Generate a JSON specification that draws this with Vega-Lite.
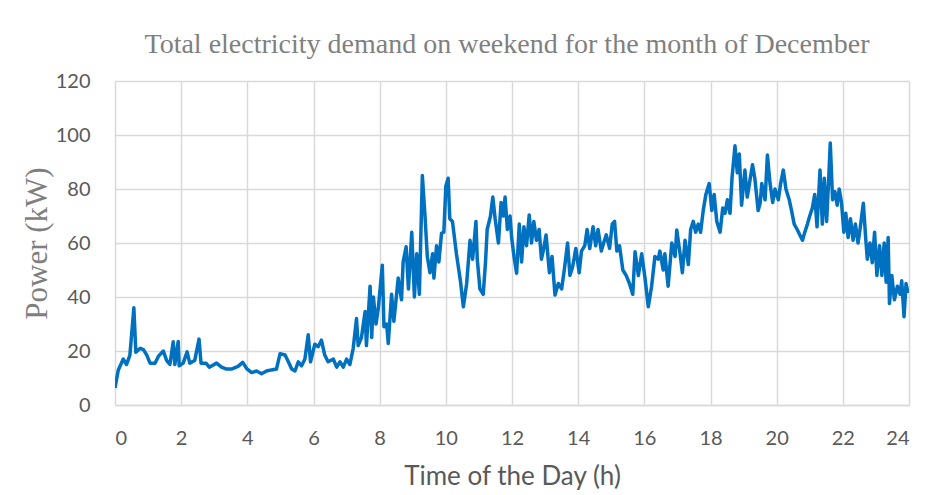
{
  "$schema": "https://vega.github.io/schema/vega-lite/v6.json",
  "autosize": "none",
  "width": 794,
  "height": 324,
  "padding": {"left": 115, "top": 81, "right": 24, "bottom": 90},
  "background": "white",
  "title": {
    "text": "Total electricity demand on weekend for the month of December",
    "font": "Liberation Serif",
    "fontSize": 28,
    "fontWeight": "normal",
    "color": "#7F7F7F",
    "anchor": "middle",
    "offset": 12,
    "dx": -5
  },
  "data": {"values": [
    {"t":0,"p":6.3},{"t":0.1,"p":13},{"t":0.25,"p":17},{"t":0.35,"p":15},{"t":0.45,"p":18.5},{"t":0.57,"p":36},{"t":0.63,"p":19.5},{"t":0.76,"p":21},{"t":0.86,"p":20.5},{"t":0.96,"p":18.5},
    {"t":1.06,"p":15.5},{"t":1.21,"p":15.5},{"t":1.31,"p":18},{"t":1.46,"p":20},{"t":1.56,"p":16.5},{"t":1.66,"p":15},{"t":1.76,"p":23.4},{"t":1.81,"p":15},{"t":1.91,"p":23.5},{"t":1.94,"p":14.5},
    {"t":2.06,"p":15.5},{"t":2.18,"p":19.7},{"t":2.26,"p":15.5},{"t":2.41,"p":16.5},{"t":2.54,"p":24.4},{"t":2.6,"p":15.5},{"t":2.75,"p":15.5},{"t":2.85,"p":14},{"t":3.07,"p":15.5},{"t":3.22,"p":14},
    {"t":3.37,"p":13.3},{"t":3.52,"p":13.3},{"t":3.72,"p":14.3},{"t":3.86,"p":15.8},{"t":3.98,"p":13.5},
    {"t":4.13,"p":12},{"t":4.28,"p":12.6},{"t":4.43,"p":11.6},{"t":4.58,"p":12.6},{"t":4.73,"p":13},{"t":4.88,"p":13.3},{"t":4.99,"p":19},{"t":5.14,"p":18.5},{"t":5.24,"p":16},{"t":5.34,"p":13.3},
    {"t":5.44,"p":12.6},{"t":5.54,"p":16},{"t":5.64,"p":14.5},{"t":5.74,"p":17},{"t":5.84,"p":26},{"t":5.91,"p":16},{"t":6.04,"p":22.5},{"t":6.14,"p":21.6},{"t":6.24,"p":24},{"t":6.34,"p":18.5},
    {"t":6.44,"p":16},{"t":6.6,"p":17},{"t":6.7,"p":14},{"t":6.8,"p":16},{"t":6.9,"p":14},{"t":7.0,"p":17},{"t":7.1,"p":15},{"t":7.2,"p":21},{"t":7.3,"p":32},{"t":7.35,"p":22},
    {"t":7.45,"p":25},{"t":7.56,"p":34.6},{"t":7.6,"p":22},
    {"t":7.71,"p":44},{"t":7.76,"p":25},{"t":7.81,"p":40},{"t":7.89,"p":30},{"t":7.96,"p":36},{"t":8.08,"p":51.8},{"t":8.13,"p":29},{"t":8.21,"p":30},{"t":8.26,"p":22.8},{"t":8.36,"p":41},
    {"t":8.43,"p":31},{"t":8.56,"p":47},{"t":8.66,"p":39},{"t":8.71,"p":53},{"t":8.8,"p":58.6},{"t":8.87,"p":43},{"t":8.97,"p":64},{"t":9.05,"p":40},{"t":9.12,"p":56},{"t":9.2,"p":41},
    {"t":9.29,"p":85},{"t":9.37,"p":70},{"t":9.44,"p":55},{"t":9.52,"p":49},{"t":9.6,"p":56},{"t":9.64,"p":47},{"t":9.72,"p":59},{"t":9.79,"p":53},{"t":9.87,"p":63.6},{"t":9.94,"p":64},
    {"t":10.0,"p":81},{"t":10.07,"p":84},{"t":10.12,"p":69},{"t":10.2,"p":68},{"t":10.32,"p":56},{"t":10.44,"p":46},{"t":10.53,"p":36.4},{"t":10.63,"p":45},{"t":10.73,"p":61},{"t":10.81,"p":54},
    {"t":10.91,"p":68},{"t":10.95,"p":54},{"t":11.03,"p":43},{"t":11.13,"p":41},{"t":11.2,"p":53},{"t":11.25,"p":65},{"t":11.35,"p":70},{"t":11.42,"p":77},{"t":11.49,"p":69},{"t":11.59,"p":60},
    {"t":11.67,"p":75},{"t":11.74,"p":70},{"t":11.79,"p":77},{"t":11.86,"p":65},{"t":11.94,"p":70},
    {"t":11.99,"p":62},{"t":12.06,"p":55},{"t":12.14,"p":48.8},{"t":12.22,"p":67},{"t":12.29,"p":53},{"t":12.36,"p":66},{"t":12.44,"p":59},{"t":12.52,"p":70.4},{"t":12.59,"p":60},{"t":12.66,"p":68},
    {"t":12.74,"p":61},{"t":12.82,"p":65},{"t":12.89,"p":54},{"t":12.96,"p":58},{"t":13.03,"p":63},{"t":13.13,"p":49},{"t":13.21,"p":55},{"t":13.3,"p":40.7},{"t":13.4,"p":45},{"t":13.5,"p":43},
    {"t":13.58,"p":50},{"t":13.68,"p":60},{"t":13.75,"p":48},{"t":13.83,"p":51},{"t":13.93,"p":58},{"t":14.03,"p":49},{"t":14.1,"p":57},{"t":14.2,"p":59},{"t":14.27,"p":65},{"t":14.35,"p":58},
    {"t":14.45,"p":66},{"t":14.53,"p":59},{"t":14.6,"p":65},{"t":14.7,"p":57},{"t":14.77,"p":60},{"t":14.85,"p":63},{"t":14.95,"p":58},{"t":15.03,"p":67},{"t":15.1,"p":68},{"t":15.17,"p":57},
    {"t":15.25,"p":59},{"t":15.35,"p":50},{"t":15.45,"p":48},{"t":15.55,"p":45},
    {"t":15.65,"p":41},{"t":15.72,"p":56.8},{"t":15.82,"p":48},{"t":15.92,"p":56},{"t":16.02,"p":47},{"t":16.12,"p":36.4},{"t":16.22,"p":44},{"t":16.32,"p":55},{"t":16.42,"p":54},{"t":16.47,"p":57},
    {"t":16.57,"p":50},{"t":16.62,"p":56},{"t":16.72,"p":44},{"t":16.83,"p":60},{"t":16.93,"p":55},{"t":16.98,"p":64.8},{"t":17.08,"p":56},{"t":17.15,"p":49},{"t":17.23,"p":61},{"t":17.33,"p":52},
    {"t":17.4,"p":65},{"t":17.48,"p":68},{"t":17.55,"p":64},{"t":17.63,"p":67},{"t":17.7,"p":64},{"t":17.78,"p":72},{"t":17.86,"p":78},{"t":17.96,"p":82},{"t":18.04,"p":72},{"t":18.11,"p":78},
    {"t":18.19,"p":68},{"t":18.29,"p":64},{"t":18.37,"p":73},{"t":18.44,"p":71},{"t":18.51,"p":76},{"t":18.59,"p":71},{"t":18.65,"p":84},{"t":18.74,"p":96},{"t":18.81,"p":86},{"t":18.87,"p":93},
    {"t":18.94,"p":74},{"t":19.04,"p":87},{"t":19.11,"p":77},{"t":19.19,"p":83},{"t":19.27,"p":89},{"t":19.34,"p":84},{"t":19.44,"p":72},
    {"t":19.5,"p":74.7},{"t":19.55,"p":82},{"t":19.65,"p":76},{"t":19.72,"p":92.6},{"t":19.8,"p":82},{"t":19.88,"p":75},{"t":19.95,"p":80},{"t":20.05,"p":76},{"t":20.12,"p":82},{"t":20.2,"p":87},
    {"t":20.28,"p":80},{"t":20.38,"p":76},{"t":20.45,"p":72},{"t":20.53,"p":67},{"t":20.62,"p":65},{"t":20.7,"p":63},{"t":20.78,"p":61},{"t":20.85,"p":64},{"t":20.93,"p":67},{"t":21.0,"p":70},
    {"t":21.08,"p":73},{"t":21.15,"p":78},{"t":21.22,"p":66},{"t":21.31,"p":87},{"t":21.38,"p":67},{"t":21.44,"p":84},{"t":21.51,"p":68},{"t":21.57,"p":83},{"t":21.62,"p":97},{"t":21.69,"p":76},
    {"t":21.76,"p":79},{"t":21.83,"p":74},{"t":21.89,"p":80},{"t":21.96,"p":75},{"t":22.03,"p":64},{"t":22.09,"p":71},{"t":22.16,"p":62},{"t":22.23,"p":69},{"t":22.31,"p":61},{"t":22.38,"p":67},
    {"t":22.46,"p":60},{"t":22.53,"p":66},{"t":22.62,"p":74.7},{"t":22.69,"p":62},{"t":22.74,"p":54},{"t":22.82,"p":60},{"t":22.89,"p":52.7},{"t":22.96,"p":64},{"t":23.03,"p":48},{"t":23.11,"p":59},
    {"t":23.18,"p":48},{"t":23.25,"p":60},{"t":23.31,"p":45.5},{"t":23.37,"p":62},{"t":23.41,"p":37.6},{"t":23.48,"p":48},{"t":23.56,"p":39},{"t":23.65,"p":44},{"t":23.73,"p":41},{"t":23.78,"p":46},
    {"t":23.85,"p":32.7},{"t":23.91,"p":45},{"t":23.96,"p":42},{"t":24.0,"p":43}
  ]},
  "mark": {"type": "line", "color": "#0070C0", "strokeWidth": 3.5, "strokeJoin": "round", "clip": true},
  "encoding": {
    "x": {
      "field": "t", "type": "quantitative",
      "scale": {"domain": [0, 24], "nice": false, "zero": false},
      "axis": {
        "title": "Time of the Day (h)",
        "values": [0,2,4,6,8,10,12,14,16,18,20,22,24],
        "grid": true, "gridColor": "#D9D9D9", "gridWidth": 1.5,
        "ticks": false, "domain": true, "domainColor": "#D9D9D9", "domainWidth": 1.5,
        "labelFont": "Lato", "labelFontSize": 20, "labelColor": "#595959", "labelPadding": 23,
        "titleFont": "Lato", "titleFontSize": 26, "titleFontWeight": "normal", "titleColor": "#595959", "titlePadding": 15
      }
    },
    "y": {
      "field": "p", "type": "quantitative",
      "scale": {"domain": [0, 120], "nice": false},
      "axis": {
        "title": "Power (kW)",
        "values": [0,20,40,60,80,100,120],
        "grid": true, "gridColor": "#D9D9D9", "gridWidth": 1.5,
        "ticks": false, "domain": false,
        "labelFont": "Lato", "labelFontSize": 20, "labelColor": "#595959", "labelPadding": 25,
        "titleFont": "Liberation Serif", "titleFontSize": 31, "titleFontWeight": "normal", "titleColor": "#7F7F7F", "titlePadding": 2
      }
    }
  },
  "config": {"view": {"stroke": null}}
}
